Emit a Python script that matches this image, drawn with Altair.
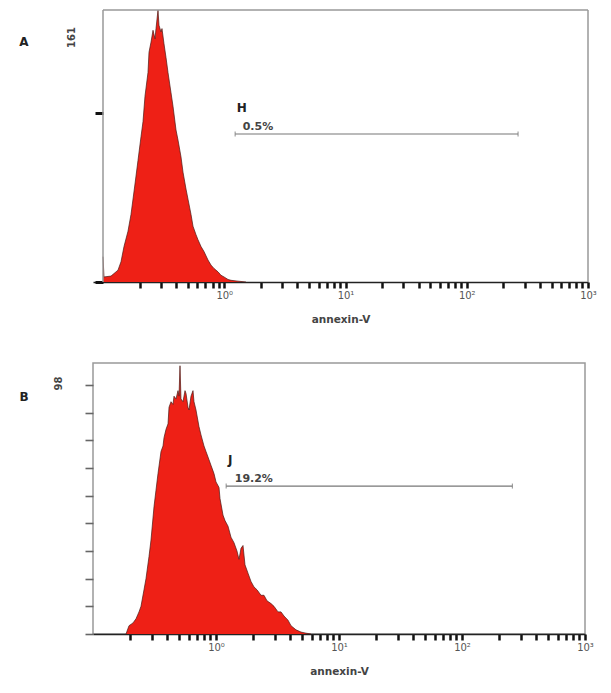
import altair as alt
import pandas as pd

# ---- Panel A histogram (annexin-V intensity, event count) ----
a_intensity = [0.1, 0.1019, 0.1164, 0.1329, 0.1408, 0.149, 0.1607, 0.1702, 0.1836, 0.1944,
               0.2058, 0.2138, 0.222, 0.235, 0.2396, 0.2489, 0.2585, 0.2685, 0.2736, 0.2842,
               0.2896, 0.3008, 0.3066, 0.3184, 0.3307, 0.3436, 0.3638, 0.3779, 0.4001, 0.4155,
               0.4399, 0.4569, 0.4837, 0.5024, 0.5319, 0.5525, 0.5848, 0.6074, 0.6432, 0.6808,
               0.7345, 0.7776, 0.8232, 0.8882, 0.9402, 0.9952, 1.074, 1.137, 1.298, 1.511]
a_count = [15, 3, 3.5, 7, 12, 21, 30, 40, 58, 72,
           86, 95, 110, 124, 136, 142, 149, 144, 150, 161,
           152, 148, 150, 141, 133, 124, 112, 104, 90, 84,
           74, 65, 55, 49, 40, 33, 28, 25, 21, 18,
           13, 10, 8, 6, 4, 3, 1.5, 1, 0.5, 0]

# ---- Panel B histogram ----
b_intensity = [0.1855, 0.1962, 0.2114, 0.2237, 0.2366, 0.2456, 0.2598, 0.2697, 0.2853, 0.2962,
               0.3133, 0.3252, 0.3377, 0.3572, 0.3709, 0.3779, 0.3923, 0.4073, 0.415, 0.4308,
               0.4472, 0.4556, 0.473, 0.491, 0.5003, 0.5097, 0.5193, 0.5391, 0.5598, 0.5703,
               0.592, 0.6032, 0.6262, 0.6501, 0.6623, 0.6876, 0.7271, 0.7551, 0.7986, 0.8291,
               0.8772, 0.9106, 0.9632, 1.0, 1.058, 1.078, 1.14, 1.184, 1.252, 1.324,
               1.401, 1.481, 1.538, 1.597, 1.658, 1.721, 1.82, 1.925, 2.037, 2.154,
               2.323, 2.456, 2.598, 2.801, 2.962, 3.193, 3.377, 3.572, 3.85, 4.073,
               4.472, 4.91, 5.391, 5.92]
b_count = [0, 3, 4, 5.5, 8, 10, 16, 20, 28, 34,
           46, 52, 58, 66, 68, 71, 74, 76, 82, 84,
           83, 86, 85, 88, 86, 97, 85, 84, 88, 87,
           82, 81, 86, 88, 84, 81, 75, 72, 68, 66,
           63, 61, 58, 55, 53, 49, 43, 41, 39, 35,
           33, 30, 27, 31, 32, 25, 22, 19, 17, 16,
           14, 14, 12, 11, 10, 8, 8, 6.5, 5, 3,
           1.5, 0.7, 0.3, 0]

# ---- axes ----
x_tick_values = [0.2, 0.3, 0.4, 0.5, 0.6, 0.7, 0.8, 0.9, 1,
                 2, 3, 4, 5, 6, 7, 8, 9, 10,
                 20, 30, 40, 50, 60, 70, 80, 90, 100,
                 200, 300, 400, 500, 600, 700, 800, 900, 1000]
a_x_domain = [0.0827, 1000]   # panel A's frame starts at 0.1, drawn a little right of B's
a_frame = [0.1, 1000]
b_x_domain = [0.1, 1000]
a_y_ticks = [0, 100]
b_y_tick_count = 10           # ticks every 10 events: 0, 10, ..., 90
a_ymax = 161
b_ymax = 98

# ---- gates ----
a_gate = {"x1": 1.23, "x2": 265, "y": 87.6, "name": "H", "pct": "0.5%",
          "name_x": 1.27, "name_y": 103, "pct_x": 1.42, "pct_y": 92}
b_gate = {"x1": 1.21, "x2": 257, "y": 53.5, "name": "J", "pct": "19.2%",
          "name_x": 1.25, "name_y": 63, "pct_x": 1.42, "pct_y": 56}

label_expr = ("datum.value == 1 ? '10\u2070' : datum.value == 10 ? '10\u00b9' : "
              "datum.value == 100 ? '10\u00b2' : datum.value == 1000 ? '10\u00b3' : ''")

FONT = "DejaVu Sans"
FRAME = "#999"


def panel(xs, ys, x_domain, ymax, ytick_opts, ytick_color, ytick_width, y_offset, extent,
          width, height, ylabel, title_x, title_y, letter, letter_x, letter_y, gate,
          frame=None):
    df = pd.DataFrame({"v": xs, "c": ys})
    x = alt.X("v:Q",
              scale=alt.Scale(type="log", domain=x_domain, nice=False),
              axis=alt.Axis(values=x_tick_values, labelExpr=label_expr, title="annexin-V",
                            tickSize=6, tickWidth=2.5, tickColor="#111",
                            domainColor="#222", domainWidth=1.5, grid=False,
                            labelFont=FONT, labelFontSize=10, labelColor="#555",
                            labelPadding=2, labelOverlap=False, labelFlush=False,
                            labelBound=False,
                            titleFont=FONT, titleFontSize=10.5, titleFontWeight="bold",
                            titleColor="#444", titlePadding=14))
    y = alt.Y("c:Q",
              scale=alt.Scale(domain=[0, ymax], nice=False, zero=True),
              axis=alt.Axis(labels=False, tickSize=8, tickWidth=ytick_width,
                            tickColor=ytick_color, domain=False, grid=False,
                            labelOverlap=False, offset=y_offset,
                            title=ylabel, titleAngle=270, titleX=title_x, titleY=title_y,
                            titleAlign="center", titleBaseline="middle",
                            titleFont=FONT, titleFontSize=10, titleFontWeight="bold",
                            titleColor="#444", minExtent=extent, maxExtent=extent,
                            **ytick_opts))
    area = alt.Chart(df).mark_area(
        color="#ee2016", opacity=1,
        line={"color": "#4a1a15", "strokeWidth": 0.7, "strokeJoin": "round"}
    ).encode(x=x, y=y)

    layers = [area]
    if frame is not None:
        fdf = pd.DataFrame({"x1": [frame[0], frame[0], frame[1]],
                            "x2": [frame[0], frame[1], frame[1]],
                            "y1": [0, ymax, 0],
                            "y2": [ymax, ymax, ymax]})
        layers.append(alt.Chart(fdf).mark_rule(color=FRAME, strokeWidth=1.5).encode(
            x="x1:Q", x2="x2:Q", y="y1:Q", y2="y2:Q"))

    gdf = pd.DataFrame([gate])
    rule = alt.Chart(gdf).mark_rule(color="#777", strokeWidth=1.2).encode(
        x=alt.X("x1:Q"), x2="x2:Q", y=alt.Y("y:Q"))
    ends_df = pd.DataFrame({"x": [gate["x1"], gate["x2"]], "y": [gate["y"], gate["y"]]})
    ends = alt.Chart(ends_df).mark_tick(orient="vertical", size=5, thickness=1.2,
                                        color="#777").encode(x="x:Q", y="y:Q")
    name = alt.Chart(gdf).mark_text(align="left", baseline="middle", font=FONT,
                                    fontSize=12, fontWeight="bold", color="#222").encode(
        x="name_x:Q", y="name_y:Q", text="name:N")
    pct = alt.Chart(gdf).mark_text(align="left", baseline="middle", font=FONT,
                                   fontSize=11, fontWeight="bold", color="#444").encode(
        x="pct_x:Q", y="pct_y:Q", text="pct:N")
    let = alt.Chart(pd.DataFrame({"t": [letter]})).mark_text(
        align="center", baseline="middle", font=FONT, fontSize=12, fontWeight="bold",
        color="#222").encode(text="t:N", x=alt.value(letter_x), y=alt.value(letter_y))
    layers += [rule, ends, name, pct, let]

    props = dict(width=width, height=height)
    if frame is not None:
        props["view"] = {"stroke": "transparent"}
    return alt.layer(*layers).properties(**props)


chart_a = panel(a_intensity, a_count, a_x_domain, a_ymax, {"values": a_y_ticks}, "#111", 3,
                -10, 0, 495, 272, "161", -32, 27, "A", -69, 32, a_gate, frame=a_frame)
chart_b = panel(b_intensity, b_count, b_x_domain, b_ymax, {"tickCount": b_y_tick_count},
                "#666", 1.6, 0, 84, 492, 271, "98", -35, 20, "B", -69, 34, b_gate)

chart = alt.vconcat(chart_a, chart_b, spacing=36).resolve_scale(
    x="independent", y="independent"
).properties(
    padding={"left": 0, "top": 0, "right": 5, "bottom": 5}
).configure_view(
    stroke=FRAME, strokeWidth=1.5
)

chart.save("out.html", embed_options={"renderer": "svg", "actions": False})
